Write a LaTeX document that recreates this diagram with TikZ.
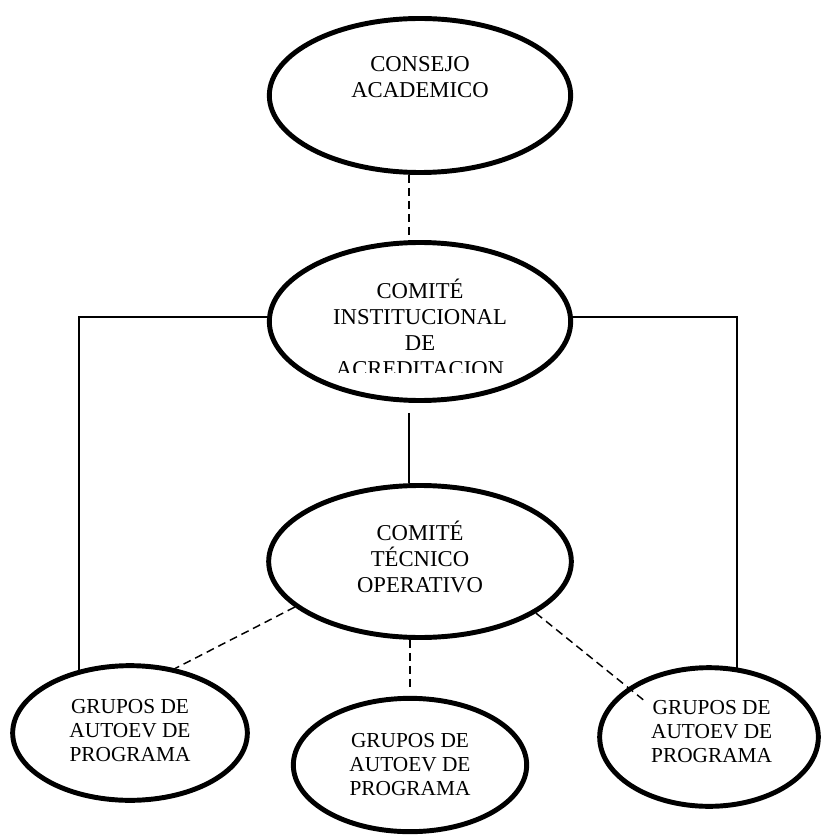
\documentclass[tikz,border=0pt]{standalone}
\usepackage{fontspec}
\setmainfont{Liberation Serif}
\usetikzlibrary{shapes.geometric}

\begin{document}
\begin{tikzpicture}[x=0.75pt,y=0.75pt,
        caja/.style={draw,ellipse,line width=3.7pt,inner sep=0pt},
        texto/.style={align=center,font=\fontsize{17}{19.5}\selectfont},
        textochico/.style={align=center,font=\fontsize{16}{18}\selectfont},
        linea/.style={line width=1.1pt},
        guion/.style={line width=1.1pt,dash pattern=on 6pt off 3.75pt}]
            \useasboundingbox (0,0) rectangle (821,-837);
            % elipses
            \node[caja,minimum width=226pt,minimum height=115.5pt] (ca) at (420,-95.5) {};
            \node[caja,minimum width=226pt,minimum height=118.5pt] (cia) at (420,-321.5) {};
            \node[caja,minimum width=227pt,minimum height=114pt] (cto) at (420,-561.5) {};
            \node[caja,minimum width=176pt,minimum height=101pt] (gl) at (130,-733) {};
            \node[caja,minimum width=175pt,minimum height=100pt] (gm) at (410,-765) {};
            \node[caja,minimum width=164pt,minimum height=104pt] (gr) at (709,-737) {};
            % textos
            \node[texto] (ca-t) at ([yshift=13.9pt]ca.center) {CONSEJO\\ACADEMICO};
            \begin{scope}
                \clip (250,-250) rectangle (590,-372);
                \node[texto] (cia-t) at ([yshift=-4.9pt]cia.center) {COMITÉ\\INSTITUCIONAL\\DE\\ACREDITACION};
            \end{scope}
            \node[texto] (cto-t) at ([yshift=3.4pt]cto.center) {COMITÉ\\TÉCNICO\\OPERATIVO};
            \node[textochico] (gl-t) at ([yshift=1.5pt]gl.center) {GRUPOS DE\\AUTOEV DE\\PROGRAMA};
            \node[textochico] (gm-t) at (gm.center) {GRUPOS DE\\AUTOEV DE\\PROGRAMA};
            \node[textochico] (gr-t) at ([xshift=2pt,yshift=4pt]gr.center) {GRUPOS DE\\AUTOEV DE\\PROGRAMA};
            % conexiones
            \draw[guion] ([xshift=-8.25pt]ca.south) -- ([xshift=-8.25pt]cia.north);
            \draw[linea,shorten <=7.5pt] ([xshift=-8.25pt]cia.south) -- ([xshift=-8.25pt]cto.north);
            \draw[linea] ([yshift=3.4pt]cia.west) -| (gl.129);
            \draw[linea] ([yshift=3.4pt]cia.east) -| (gr.68);
            \draw[guion] (cto.200) -- (gl.55);
            \draw[guion,shorten >=5pt] (cto.south -| gm.north) -- (gm.north);
            \coordinate (gr-in) at (646,-702);
            \draw[guion] (cto.-24) -- (gr-in);
        \end{tikzpicture}
\end{document}
